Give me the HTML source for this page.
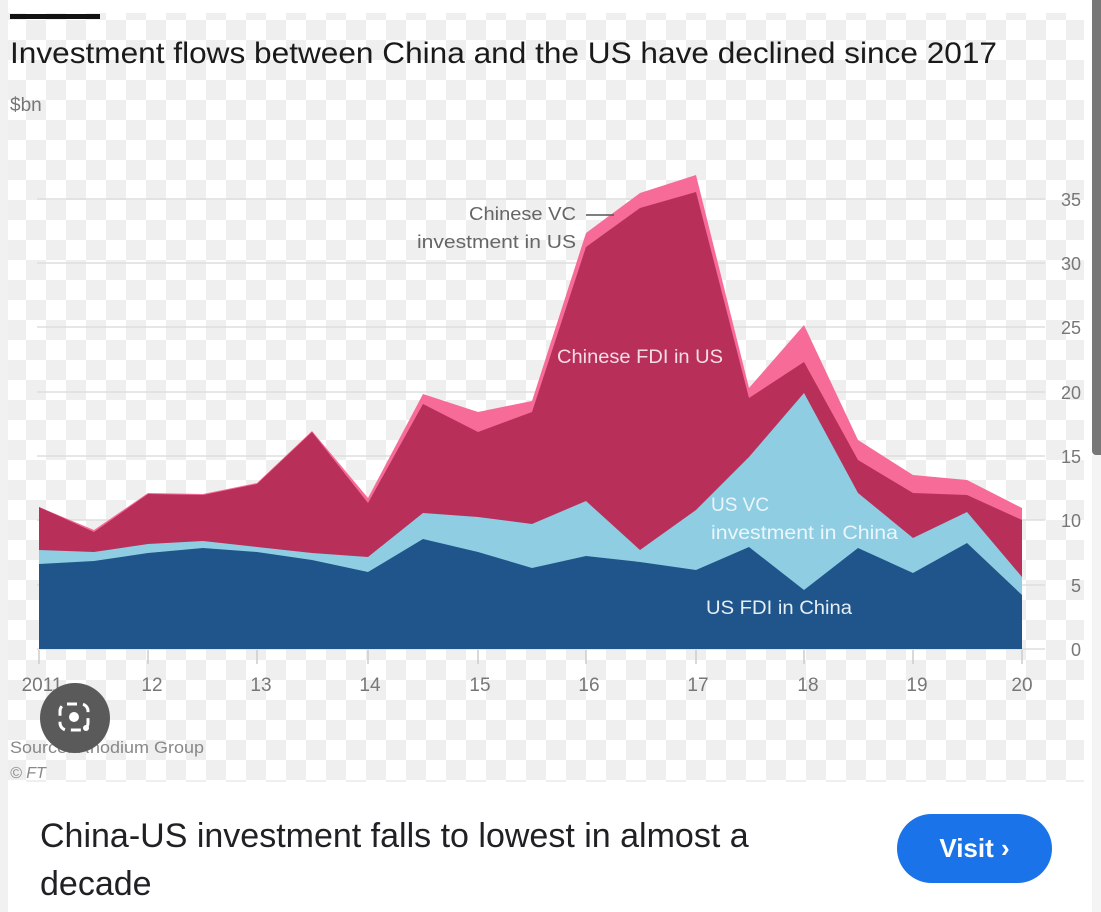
<!DOCTYPE html>
<html><head><meta charset="utf-8"><style>
html,body{margin:0;padding:0;width:1101px;height:912px;overflow:hidden;background:#fff;font-family:"Liberation Sans",sans-serif}
#img{position:absolute;left:8px;top:13px;width:1076px;height:769px;
background-color:#fff;
background-image:conic-gradient(#efefef 25%,#fff 0 50%,#efefef 0 75%,#fff 0);
background-size:40px 40px;background-position:-2px 7px}
#lb{position:absolute;left:0;top:0;width:8px;height:912px;background:#f1f1f1}
#sb{position:absolute;left:1092px;top:0;width:9px;height:455px;background:#777;border-radius:0 0 0 4px}
#sb2{position:absolute;left:1092px;top:455px;width:9px;height:457px;background:#f4f4f4}
svg{position:absolute;left:0;top:0}
.cap{position:absolute;left:40px;top:812px;font-size:34px;line-height:48px;color:#202124;width:780px}
.btn{position:absolute;left:897px;top:814px;width:155px;height:69px;border-radius:35px;background:#1a73e8;color:#fff;font-size:26px;font-weight:bold;line-height:69px;text-align:center}
</style></head><body>
<div id="lb"></div><div id="img"></div><div id="sb"></div><div id="sb2"></div>
<svg width="1101" height="912" font-family="Liberation Sans, sans-serif">
<rect x="10" y="14" width="90" height="5" fill="#111"/>
<text x="10" y="63" font-size="30" fill="#1a1a1a" textLength="987" lengthAdjust="spacingAndGlyphs">Investment flows between China and the US have declined since 2017</text>
<text x="10" y="111" font-size="19" fill="#777">$bn</text>
<g stroke="#dedede" stroke-width="1.5">
<line x1="37" x2="1045" y1="199" y2="199"/><line x1="37" x2="1045" y1="263" y2="263"/>
<line x1="37" x2="1045" y1="327" y2="327"/><line x1="37" x2="1045" y1="392" y2="392"/>
<line x1="37" x2="1045" y1="456" y2="456"/><line x1="37" x2="1045" y1="520" y2="520"/>
<line x1="37" x2="1045" y1="585" y2="585"/><line x1="37" x2="1045" y1="649" y2="649"/>
</g>
<g font-size="18" fill="#777" text-anchor="end">
<text x="1081" y="206">35</text><text x="1081" y="270">30</text><text x="1081" y="334">25</text>
<text x="1081" y="399">20</text><text x="1081" y="463">15</text><text x="1081" y="527">10</text>
<text x="1081" y="592">5</text><text x="1081" y="656">0</text>
</g>
<polygon fill="#f66b97" points="39,649 39,507 94,530 148,493 203,494 257,483 312,431 368,498 423,394 478,412 532,401 586,233 640,193 696,175 749,388 804,325 858,440 913,475 967,480 1022,508 1022,649"/>
<polygon fill="#b8305a" points="39,649 39,507 94,532 148,494 203,495 257,484 312,432 368,503 423,404 478,432 532,412 586,247 640,208 696,192 749,398 804,362 858,460 913,493 967,495 1022,520 1022,649"/>
<polygon fill="#8fcde3" points="39,649 39,550 94,552 148,544 203,541 257,547 312,553 368,557 423,513 478,517 532,524 586,501 640,550 696,510 749,457 804,393 858,493 913,538 967,512 1022,577 1022,649"/>
<polygon fill="#1f558b" points="39,649 39,564 94,561 148,553 203,548 257,552 312,560 368,572 423,539 478,552 532,568 586,556 640,562 696,570 749,547 804,590 858,548 913,573 967,543 1022,595 1022,649"/>
<g stroke="#ccc" stroke-width="1.5">
<line x1="39" x2="39" y1="650" y2="664"/><line x1="148" x2="148" y1="650" y2="664"/><line x1="257" x2="257" y1="650" y2="664"/>
<line x1="368" x2="368" y1="650" y2="664"/><line x1="478" x2="478" y1="650" y2="664"/><line x1="586" x2="586" y1="650" y2="664"/>
<line x1="696" x2="696" y1="650" y2="664"/><line x1="804" x2="804" y1="650" y2="664"/><line x1="913" x2="913" y1="650" y2="664"/>
<line x1="1022" x2="1022" y1="650" y2="664"/>
</g>
<g font-size="19" fill="#777" text-anchor="middle">
<text x="42" y="691">2011</text><text x="152" y="691">12</text><text x="261" y="691">13</text><text x="370" y="691">14</text>
<text x="480" y="691">15</text><text x="589" y="691">16</text><text x="698" y="691">17</text><text x="808" y="691">18</text>
<text x="917" y="691">19</text><text x="1022" y="691">20</text>
</g>
<g font-size="18.5" fill="#666">
<text x="469" y="220" textLength="107" lengthAdjust="spacingAndGlyphs">Chinese VC</text>
<text x="417" y="248" textLength="159" lengthAdjust="spacingAndGlyphs">investment in US</text>
</g>
<line x1="586" x2="614" y1="215" y2="215" stroke="#555" stroke-width="1.5"/>
<text x="557" y="363" font-size="19" fill="#f3dce4" textLength="166" lengthAdjust="spacingAndGlyphs">Chinese FDI in US</text>
<text x="711" y="511" font-size="19" fill="#eaf6fb">US VC</text>
<text x="711" y="539" font-size="19" fill="#eaf6fb" textLength="187" lengthAdjust="spacingAndGlyphs">investment in China</text>
<text x="706" y="614" font-size="19" fill="#e6eef6" textLength="146" lengthAdjust="spacingAndGlyphs">US FDI in China</text>
<text x="10" y="753" font-size="16.5" fill="#888" textLength="194" lengthAdjust="spacingAndGlyphs">Source: Rhodium Group</text>
<text x="10" y="778" font-size="16" fill="#888" font-style="italic">© FT</text>
<circle cx="75" cy="718" r="35" fill="#5a5a5a"/>
<rect x="60" y="704" width="28" height="26" rx="7" fill="none" stroke="#fff" stroke-width="3" stroke-dasharray="10 6"/>
<circle cx="74" cy="717" r="5" fill="#fff"/><circle cx="86" cy="728" r="3" fill="#fff"/>
</svg>
<div class="cap">China-US investment falls to lowest in almost a decade</div>
<div class="btn">Visit ›</div>
</body></html>
